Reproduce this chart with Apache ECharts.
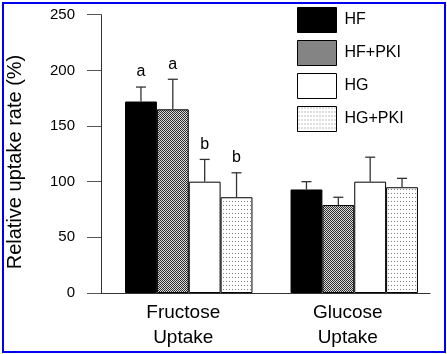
<!DOCTYPE html>
<html><head><meta charset="utf-8">
<script src="https://cdn.jsdelivr.net/npm/echarts@6/dist/echarts.min.js"></script>
<style>html,body{margin:0;padding:0;background:#fff}#c{width:447px;height:354px}</style>
</head><body><div id="c"></div>
<script>
const categories = ['Fructose\nUptake', 'Glucose\nUptake'];
const seriesNames = ['HF', 'HF+PKI', 'HG', 'HG+PKI'];
const HF = [172, 93];
const HF_PKI = [165, 79];
const HG = [100, 100];
const HG_PKI = [86, 95];
const HF_err = [13, 7];
const HF_PKI_err = [27, 7];
const HG_err = [20, 22];
const HG_PKI_err = [22, 8];
const letters = [['a', ''], ['a', ''], ['b', ''], ['b', '']];
const yTicks = [0, 50, 100, 150, 200, 250];

const values = [HF, HF_PKI, HG, HG_PKI];
const errs = [HF_err, HF_PKI_err, HG_err, HG_PKI_err];

function makePattern(w, h, bg, fg, pts) {
  const c = document.createElement('canvas');
  c.width = w; c.height = h;
  const g = c.getContext('2d');
  g.fillStyle = bg; g.fillRect(0, 0, w, h);
  g.fillStyle = fg;
  pts.forEach(p => g.fillRect(p[0], p[1], 1, 1));
  return { image: c, repeat: 'repeat' };
}
const checker = makePattern(2, 2, '#d8d8d8', '#303030', [[0, 0], [1, 1]]);
const dots = makePattern(3, 4, '#ffffff', '#808080', [[1, 1]]);
const fills = ['#000000', checker, '#ffffff', dots];

const GAP = 0.23;
const errData = [];
const errLetters = [];
values.forEach((arr, s) => arr.forEach((v, i) => {
  errData.push([i, v, errs[s][i], s]);
  errLetters.push(letters[s][i]);
}));

const chart = echarts.init(document.getElementById('c'), null, { renderer: 'canvas' });
const barSeries = seriesNames.map((n, s) => ({
  name: n, type: 'bar', xAxisIndex: 1, yAxisIndex: 1,
  data: values[s], barGap: 0, barCategoryGap: (GAP * 100) + '%',
  itemStyle: { color: fills[s], borderColor: '#000', borderWidth: 1 },
  emphasis: { disabled: true }, animation: false
}));

chart.setOption({
  animation: false,
  grid: [
    { left: 101, right: 17, top: 14.7, bottom: 61 },
    { left: 106, right: 10, top: 14.7, bottom: 61 }
  ],
  xAxis: [
    { type: 'category', gridIndex: 0, data: categories,
      axisLine: { lineStyle: { color: '#333', width: 1 } },
      axisTick: { show: false },
      axisLabel: { color: '#000', fontSize: 19, fontFamily: 'Liberation Sans, Arial', lineHeight: 25, margin: 7 } },
    { type: 'category', gridIndex: 1, data: categories, show: false }
  ],
  yAxis: [
    { type: 'value', gridIndex: 0, min: 0, max: 250, interval: 50,
      axisLine: { show: true, lineStyle: { color: '#333', width: 1 } },
      axisTick: { show: true, length: 14, lineStyle: { color: '#555' } },
      splitLine: { show: false },
      axisLabel: { color: '#000', fontSize: 15, fontFamily: 'Liberation Sans, Arial', margin: 26,
        formatter: v => yTicks.indexOf(v) >= 0 ? String(v) : '' } },
    { type: 'value', gridIndex: 1, min: 0, max: 250, show: false }
  ],
  legend: {
    data: seriesNames, orient: 'vertical', left: 297, top: 7,
    itemWidth: 39, itemHeight: 25, itemGap: 7, padding: 0, icon: 'rect',
    itemStyle: { borderColor: '#000', borderWidth: 1 },
    textStyle: { color: '#000', fontSize: 16, fontFamily: 'Liberation Sans, Arial', padding: [0, 0, 0, 3] },
    selectedMode: false
  },
  graphic: [
    { type: 'text', x: 15, y: 162, rotation: Math.PI / 2,
      style: { text: 'Relative uptake rate (%)', fill: '#000', fontSize: 20, fontFamily: 'Liberation Sans, Arial',
        align: 'center', verticalAlign: 'middle' } },
    { type: 'rect', shape: { x: 3, y: 3, width: 442, height: 349 }, z: 100,
      style: { fill: 'none', stroke: '#0000f0', lineWidth: 2 } }
  ],
  series: barSeries.concat([{
    type: 'custom', xAxisIndex: 1, yAxisIndex: 1, data: errData, z: 5,
    encode: { x: 0, y: 1 },
    renderItem: function (params, api) {
      const cat = api.value(0), v = api.value(1), e = api.value(2), s = api.value(3);
      const band = api.size([1, 0])[0];
      const group = band * (1 - GAP);
      const bw = group / 4;
      const c = api.coord([cat, v]);
      const x = c[0] - group / 2 + bw * (s + 0.5);
      const yTop = api.coord([cat, v + e])[1];
      const children = [
        { type: 'line', shape: { x1: x, y1: c[1], x2: x, y2: yTop }, style: { stroke: '#333', lineWidth: 1.3 } },
        { type: 'line', shape: { x1: x - 5, y1: yTop, x2: x + 5, y2: yTop }, style: { stroke: '#333', lineWidth: 1.3 } }
      ];
      const L = errLetters[params.dataIndex];
      if (L) children.push({ type: 'text', x: x, y: yTop - 7,
        style: { text: L, fill: '#000', fontSize: 16, fontFamily: 'Liberation Sans, Arial', align: 'center', verticalAlign: 'bottom' } });
      return { type: 'group', children: children };
    }
  }])
});
</script></body></html>
